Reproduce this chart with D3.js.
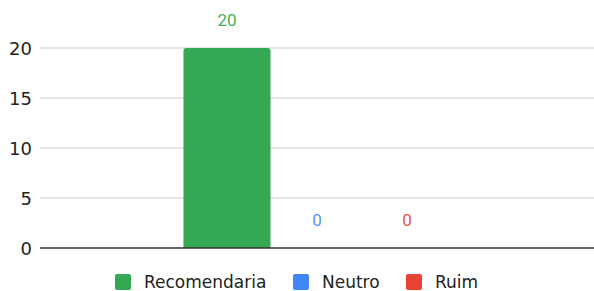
<html>
<head>
<meta charset="utf-8">
<script src="https://cdn.jsdelivr.net/npm/d3@7"></script>
<style>
  body { margin: 0; background: #fff; }
  .tick text { font-family: 'DejaVu Sans', sans-serif; font-size: 18px; fill: #222; }
  .legend text { font-family: 'DejaVu Sans', sans-serif; font-size: 17px; fill: #222; }
  .label { font-family: Roboto, sans-serif; font-size: 17px; }
</style>
</head>
<body>
<script>
var series = ['Recomendaria', 'Neutro', 'Ruim'];
var values = [20, 0, 0];
var colors = ['#34a853', '#4285f4', '#ea4335'];
var labelColors = ['#3fb05c', '#5591f5', '#e2564a'];
var yTicks = [0, 5, 10, 15, 20];

var W = 594, H = 291;
var margin = {top: 48, right: 0, bottom: 43, left: 40};
var width = W - margin.left - margin.right;
var height = H - margin.top - margin.bottom;

var svg = d3.select('body').append('svg')
  .attr('width', W).attr('height', H);
var g = svg.append('g')
  .attr('transform', 'translate(' + margin.left + ',' + margin.top + ')');

var y = d3.scaleLinear().domain([0, 20]).range([height, 0]);
var x0 = d3.scaleBand().domain(['']).range([0, width]).paddingInner(0).paddingOuter(0.526);
var x1 = d3.scaleBand().domain(series).range([0, x0.bandwidth()]).paddingInner(0.033).paddingOuter(0.016);

// gridlines
g.selectAll('.grid').data(yTicks.slice(1)).enter().append('line')
  .attr('x1', 0).attr('x2', width)
  .attr('y1', function(d) { return y(d); }).attr('y2', function(d) { return y(d); })
  .attr('stroke', '#cccccc').attr('stroke-width', 1);

var yAxis = g.append('g')
  .call(d3.axisLeft(y).tickValues(yTicks).tickSize(0).tickPadding(8));
yAxis.select('.domain').remove();
yAxis.selectAll('text').attr('dy', '0.36em');

var data = series.map(function(s, i) { return {key: s, value: values[i], color: colors[i], lc: labelColors[i]}; });

var r = 3;
g.selectAll('.bar').data(data.filter(function(d) { return d.value > 0; })).enter().append('path')
  .attr('class', 'bar')
  .attr('fill', function(d) { return d.color; })
  .attr('d', function(d) {
    var bx = x0('') + x1(d.key), bw = x1.bandwidth();
    var top = y(d.value), bot = y(0);
    return 'M' + bx + ',' + bot + 'V' + (top + r) + 'Q' + bx + ',' + top + ' ' + (bx + r) + ',' + top +
      'H' + (bx + bw - r) + 'Q' + (bx + bw) + ',' + top + ' ' + (bx + bw) + ',' + (top + r) + 'V' + bot + 'Z';
  });

// baseline
g.append('line')
  .attr('x1', 0).attr('x2', width)
  .attr('y1', y(0)).attr('y2', y(0))
  .attr('stroke', '#333').attr('stroke-width', 1.5);

g.selectAll('.label').data(data).enter().append('text')
  .attr('class', 'label')
  .attr('text-anchor', 'middle')
  .attr('x', function(d) { return x0('') + x1(d.key) + x1.bandwidth() / 2; })
  .attr('y', function(d) { return y(d.value) - 22; })
  .attr('fill', function(d) { return d.lc; })
  .text(function(d) { return d.value; });

// legend
var legendX = [115, 293, 406];
var legend = svg.append('g').attr('class', 'legend');
var items = legend.selectAll('g').data(data).enter().append('g')
  .attr('transform', function(d, i) { return 'translate(' + legendX[i] + ',274)'; });
items.append('rect').attr('width', 16).attr('height', 16).attr('rx', 2)
  .attr('fill', function(d) { return d.color; });
items.append('text').attr('x', 29).attr('y', 14).text(function(d) { return d.key; });
</script>
</body>
</html>
